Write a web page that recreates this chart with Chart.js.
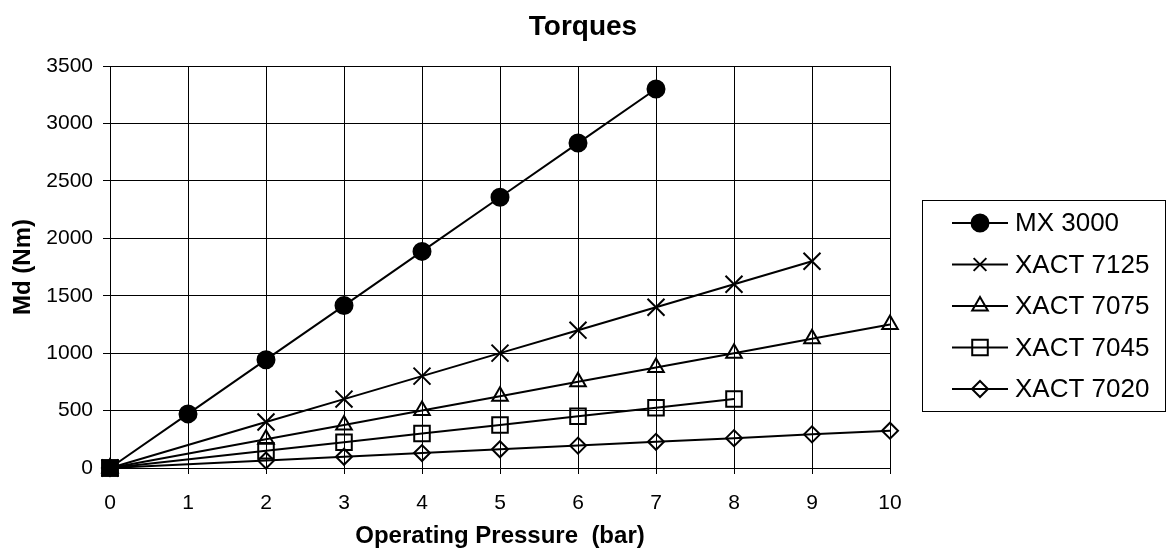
<!DOCTYPE html>
<html>
<head>
<meta charset="utf-8">
<script src="https://cdn.jsdelivr.net/npm/chart.js@4"></script>
<style>
  body { margin: 0; background: #fff; }
  canvas { display: block; }
</style>
</head>
<body>
<canvas id="torqueChart" width="1168" height="548"></canvas>
<script>
const chartTitle = "Torques";
const xTitle = "Operating Pressure  (bar)";
const yTitle = "Md (Nm)";

const seriesNames = ["MX 3000", "XACT 7125", "XACT 7075", "XACT 7045", "XACT 7020"];

const mxPressure = [0, 1, 2, 3, 4, 5, 6, 7];
const mxTorque = [0, 471, 943, 1414, 1886, 2357, 2829, 3300];

const x7125Pressure = [0, 2, 3, 4, 5, 6, 7, 8, 9];
const x7125Torque = [0, 400, 600, 800, 1000, 1200, 1400, 1600, 1800];

const x7075Pressure = [0, 2, 3, 4, 5, 6, 7, 8, 9, 10];
const x7075Torque = [0, 250, 375, 500, 625, 750, 875, 1000, 1125, 1250];

const x7045Pressure = [0, 2, 3, 4, 5, 6, 7, 8];
const x7045Torque = [0, 150, 225, 300, 375, 450, 525, 600];

const x7020Pressure = [0, 2, 3, 4, 5, 6, 7, 8, 9, 10];
const x7020Torque = [0, 65, 98, 130, 163, 195, 228, 260, 293, 325];

const xMin = 0, xMax = 10, xStep = 1;
const yMin = 0, yMax = 3500, yStep = 500;

const fontFamily = "'Liberation Sans', Arial, sans-serif";

function toPoints(xs, ys) {
  return xs.map((x, i) => ({ x: x, y: ys[i] }));
}

// marker looks, one per series
const markers = [
  { style: "circle", radius: 8.5, fill: "#000", legendRadius: 8.5 },
  { style: "crossRot", radius: 12, fill: "transparent", legendRadius: 9 },
  { style: "triangle", radius: 9, fill: "transparent", legendRadius: 9 },
  { style: "rect", radius: 11, fill: "transparent", legendRadius: 11 },
  { style: "rectRot", radius: 8, fill: "transparent", legendRadius: 8 },
];

const seriesData = [
  toPoints(mxPressure, mxTorque),
  toPoints(x7125Pressure, x7125Torque),
  toPoints(x7075Pressure, x7075Torque),
  toPoints(x7045Pressure, x7045Torque),
  toPoints(x7020Pressure, x7020Torque),
];

const datasets = seriesNames.map((name, i) => ({
  label: name,
  data: seriesData[i],
  borderColor: "#000",
  borderWidth: 2,
  pointStyle: i === 0
    ? (ctx) => (ctx.dataIndex === 0 ? "rect" : "circle")
    : markers[i].style,
  pointRadius: i === 0
    ? (ctx) => (ctx.dataIndex === 0 ? 11 : markers[0].radius)
    : markers[i].radius,
  pointHoverRadius: markers[i].radius,
  pointBackgroundColor: markers[i].fill,
  pointBorderColor: "#000",
  pointBorderWidth: 2,
  tension: 0,
  clip: false,
}));

// title + boxed legend drawn by hand, like the original
const frame = {
  id: "frame",
  afterDraw(chart) {
    const ctx = chart.ctx;
    ctx.save();
    ctx.fillStyle = "#000";
    ctx.font = "bold 28px " + fontFamily;
    ctx.textAlign = "center";
    ctx.textBaseline = "middle";
    ctx.fillText(chartTitle, 583, 27);

    const box = { left: 922, top: 200, right: 1165, bottom: 411 };
    ctx.strokeStyle = "#000";
    ctx.lineWidth = 1;
    ctx.strokeRect(box.left + 0.5, box.top + 0.5, box.right - box.left, box.bottom - box.top);

    ctx.font = "26px " + fontFamily;
    ctx.textAlign = "left";
    seriesNames.forEach((name, i) => {
      const y = 223 + i * 41.5;
      ctx.beginPath();
      ctx.lineWidth = 2;
      ctx.strokeStyle = "#000";
      ctx.moveTo(952, y);
      ctx.lineTo(1008, y);
      ctx.stroke();
      ctx.fillStyle = markers[i].fill;
      Chart.helpers.drawPoint(ctx, {
        pointStyle: markers[i].style,
        radius: markers[i].legendRadius,
        rotation: 0,
        borderWidth: 2,
      }, 980, y);
      ctx.fillStyle = "#000";
      ctx.fillText(name, 1015, y + 1);
    });
    ctx.restore();
  },
};

new Chart(document.getElementById("torqueChart"), {
  type: "line",
  data: { datasets: datasets },
  plugins: [frame],
  options: {
    responsive: false,
    animation: false,
    events: [],
    layout: { padding: { top: 66, right: 278, left: 0, bottom: 0 } },
    scales: {
      x: {
        type: "linear",
        min: xMin,
        max: xMax,
        afterFit: (scale) => { scale.height = 80; },
        ticks: {
          stepSize: xStep,
          color: "#000",
          padding: 17,
          font: { family: fontFamily, size: 21 },
        },
        grid: { color: "#000", lineWidth: 1, tickLength: 6, tickColor: "#000" },
        border: { color: "#000", width: 1 },
        title: {
          display: true,
          text: xTitle,
          color: "#000",
          padding: { top: 0, bottom: 0 },
          font: { family: fontFamily, size: 24, weight: "bold", lineHeight: 1 },
        },
      },
      y: {
        min: yMin,
        max: yMax,
        afterFit: (scale) => { scale.width = 110; },
        ticks: {
          stepSize: yStep,
          color: "#000",
          padding: 10,
          font: { family: fontFamily, size: 21 },
          callback: (value) => String(value),
        },
        grid: { color: "#000", lineWidth: 1, tickLength: 7, tickColor: "#000" },
        border: { color: "#000", width: 1 },
        title: {
          display: true,
          text: yTitle,
          color: "#000",
          padding: { top: 11, bottom: 0 },
          font: { family: fontFamily, size: 24, weight: "bold", lineHeight: 1 },
        },
      },
    },
    plugins: {
      legend: { display: false },
      title: { display: false },
      tooltip: { enabled: false },
    },
  },
});
</script>
</body>
</html>
